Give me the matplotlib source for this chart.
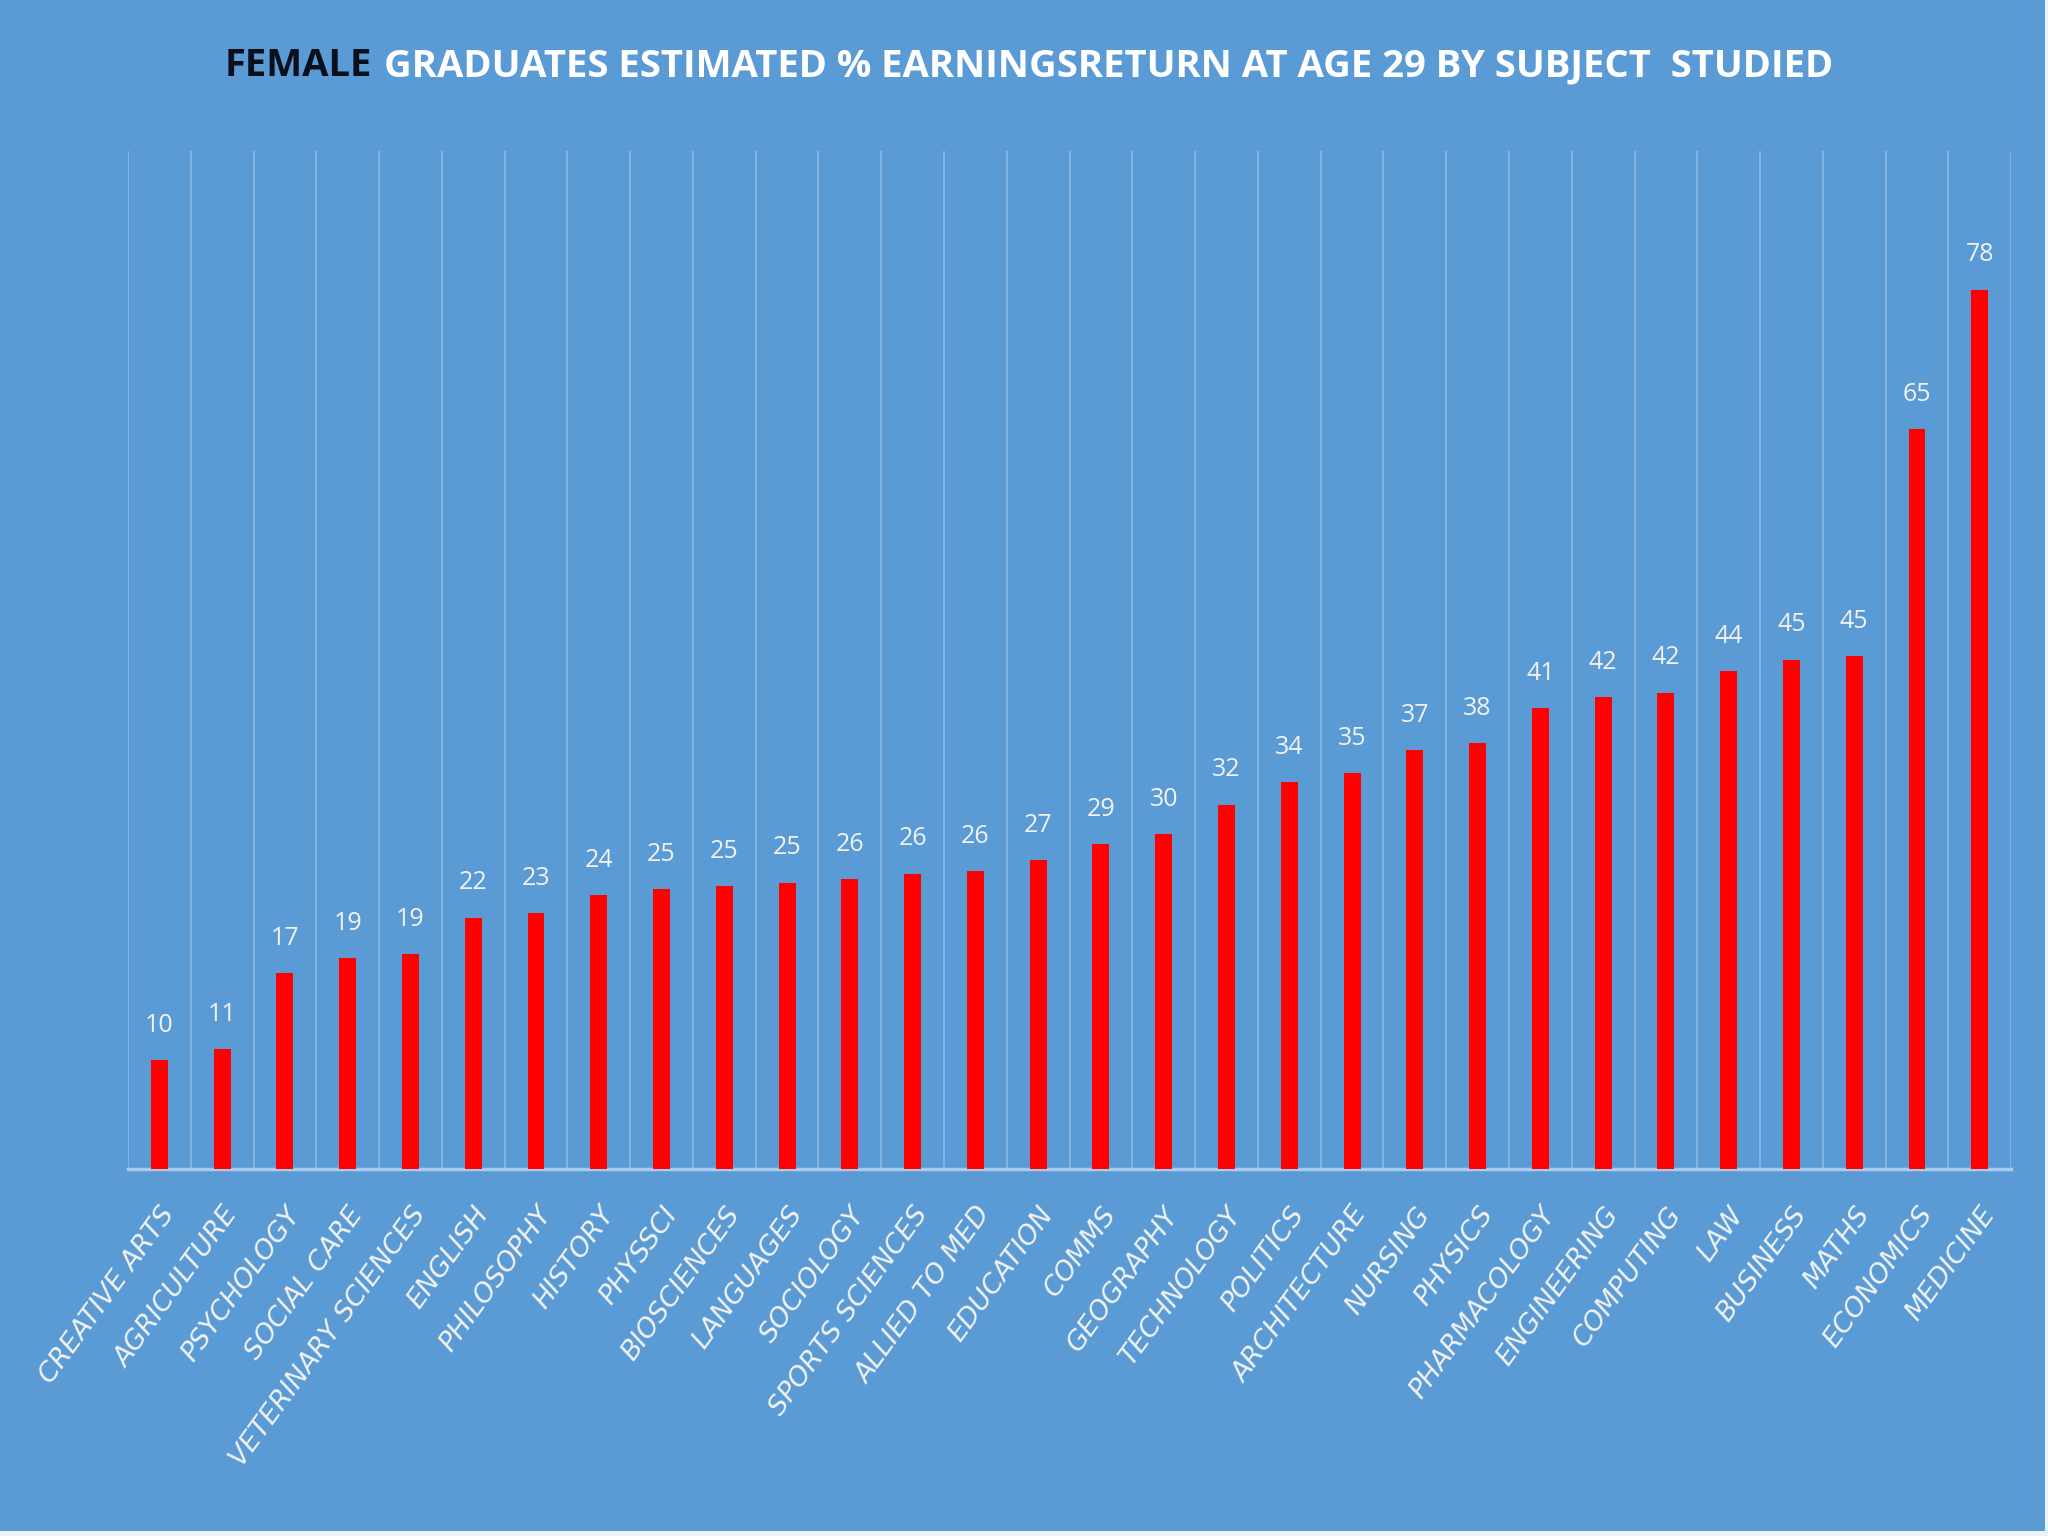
import matplotlib.pyplot as plt
from matplotlib.patches import Rectangle
import numpy as np

subjects = ["CREATIVE ARTS", "AGRICULTURE", "PSYCHOLOGY", "SOCIAL CARE", "VETERINARY SCIENCES",
            "ENGLISH", "PHILOSOPHY", "HISTORY", "PHYSSCI", "BIOSCIENCES", "LANGUAGES", "SOCIOLOGY",
            "SPORTS SCIENCES", "ALLIED TO MED", "EDUCATION", "COMMS", "GEOGRAPHY", "TECHNOLOGY",
            "POLITICS", "ARCHITECTURE", "NURSING", "PHYSICS", "PHARMACOLOGY", "ENGINEERING",
            "COMPUTING", "LAW", "BUSINESS", "MATHS", "ECONOMICS", "MEDICINE"]
returns = [9.6, 10.6, 17.3, 18.6, 19.0, 22.2, 22.6, 24.2, 24.7, 25.0, 25.3, 25.6,
           26.1, 26.3, 27.3, 28.7, 29.6, 32.2, 34.2, 35.0, 37.0, 37.6, 40.7, 41.7,
           42.1, 44.0, 45.0, 45.3, 65.4, 77.7]

plt.rcParams['font.family'] = ['Open Sans', 'DejaVu Sans']

bg = '#5B9BD5'
grid = '#8DB9E4'

fig = plt.figure(figsize=(20.48, 15.36), dpi=100, facecolor=bg)
ax = fig.add_axes([0.0625, 0.239, 0.9195, 0.663], facecolor=bg)

x = np.arange(len(subjects))
bars = ax.bar(x, returns, width=0.27, color='#FF0000', zorder=3)

for b, v in zip(bars, returns):
    ax.annotate('{:.0f}'.format(v), xy=(b.get_x() + b.get_width() / 2, v),
                xytext=(0, 16), textcoords='offset points', ha='center', va='bottom',
                color='#F2F2F2', fontsize=18)

for xb in np.arange(-0.5, len(subjects), 1.0):
    ax.axvline(xb, color=grid, lw=1.2, zorder=1)

ax.set_xlim(-0.5, len(subjects) - 0.5)
ax.set_ylim(0, 90)
ax.set_yticks([])
for s in ['top', 'left', 'right']:
    ax.spines[s].set_visible(False)
ax.spines['bottom'].set_color('#A9CBEC')
ax.spines['bottom'].set_linewidth(2.5)

ax.set_xticks(x)
ax.set_xticklabels(subjects, rotation=54, ha='right', rotation_mode='anchor',
                   color='#F2F2F2', fontsize=19.5, family='DejaVu Sans', style='italic')
ax.tick_params(axis='x', length=0, pad=24)

# two-colour title
t1 = fig.text(225 / 2048, 0.957, 'FEMALE', ha='left', va='center', fontsize=27.5,
              fontweight='bold', color='#0A0F1E')
fig.canvas.draw()
ext = t1.get_window_extent()
fig.text((ext.x1 + 12) / 2048, 0.957,
         'GRADUATES ESTIMATED % EARNINGSRETURN AT AGE 29 BY SUBJECT  STUDIED',
         ha='left', va='center', fontsize=27.5, fontweight='bold', color='white')

# thin white border at bottom and right like the screenshot
fig.add_artist(Rectangle((0, 0), 1, 0.003, transform=fig.transFigure, color='#EAF2FA', lw=0))
fig.add_artist(Rectangle((0.9985, 0), 0.0015, 1, transform=fig.transFigure, color='#EAF2FA', lw=0))

fig.savefig('out.png', dpi=100, facecolor=bg)
